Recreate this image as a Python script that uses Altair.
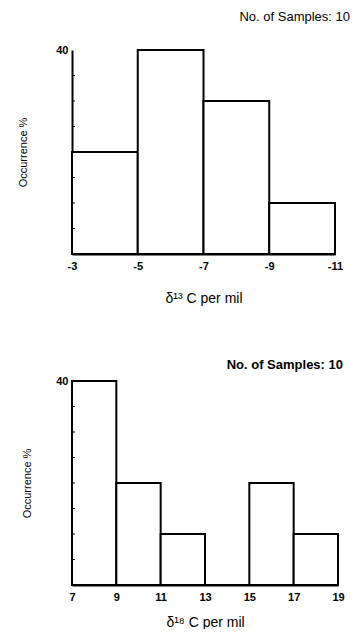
import altair as alt
import pandas as pd

# delta 13C histogram
c13_start = [-3, -5, -7, -9]
c13_end = [-5, -7, -9, -11]
c13_pct = [20, 40, 30, 10]
c13_ticks = [-3, -5, -7, -9, -11]

# delta 18 histogram
o18_start = [7, 9, 11, 13, 15, 17]
o18_end = [9, 11, 13, 15, 17, 19]
o18_pct = [40, 20, 10, 0, 20, 10]
o18_ticks = [7, 9, 11, 13, 15, 17, 19]

minor_ticks = [5, 10, 15, 20, 25, 30, 35]
sample_label = "No. of Samples: 10"
FONT = "Liberation Sans"


def panel(start, end, pct, ticks, xdom, reverse, xtitle, width, title_offset,
          xtitle_pad, label_x, label_y, label_bold):
    df = pd.DataFrame({"start": start, "end": end, "pct": pct, "zero": [0] * len(pct)})
    xs = alt.Scale(domain=xdom, reverse=reverse, nice=False, zero=False)
    ys = alt.Scale(domain=[0, 40], nice=False)
    bars = alt.Chart(df).mark_rect(fill="white", stroke="black", strokeWidth=2).encode(
        x=alt.X("start:Q", scale=xs,
                axis=alt.Axis(values=ticks, title=xtitle, ticks=False, grid=False,
                              labelPadding=6, titlePadding=xtitle_pad, domainColor="black",
                              domainWidth=2, labelFont=FONT, labelFontWeight="bold",
                              labelFontSize=11, labelColor="black", titleFont=FONT,
                              titleFontSize=14, titleFontWeight="normal",
                              titleColor="black", labelFlush=False,
                              labelExpr="'' + datum.value")),
        x2="end:Q",
        y=alt.Y("pct:Q", scale=ys,
                axis=alt.Axis(values=[40], title="Occurrence %", ticks=False, grid=False,
                              labelPadding=4, minExtent=15, maxExtent=15,
                              titlePadding=title_offset - 15, domainColor="black",
                              domainWidth=2, labelFont=FONT, labelFontWeight="bold",
                              labelFontSize=11, labelColor="black", titleFont=FONT,
                              titleFontSize=11, titleFontWeight="normal",
                              titleColor="black", labelBaseline="middle")),
        y2="zero:Q",
    )
    tdf = pd.DataFrame({"v": minor_ticks})
    tk = alt.Chart(tdf).mark_rule(color="black", strokeWidth=1).encode(
        y=alt.Y("v:Q", scale=ys), x=alt.value(0), x2=alt.value(3))
    ldf = pd.DataFrame({"t": [sample_label]})
    lab = alt.Chart(ldf).mark_text(
        align="right", baseline="middle", font=FONT, fontSize=13,
        fontWeight="bold" if label_bold else "normal", color="black"
    ).encode(text="t:N", x=alt.value(label_x), y=alt.value(label_y))
    return alt.layer(bars, tk, lab).properties(width=width, height=204)


top = panel(c13_start, c13_end, c13_pct, c13_ticks, [-11, -3], True,
            "δ¹³ C per mil", 263, 44, 20, 278, -33, False)
bottom = panel(o18_start, o18_end, o18_pct, o18_ticks, [7, 19], False,
               "δ¹⁸ C per mil", 266, 40, 13, 271, -16, True)

chart = alt.vconcat(top, bottom, spacing=54).properties(
    padding={"left": 9, "top": 3, "right": 0, "bottom": 0}
).configure_view(stroke=None)

chart.save("out.html", embed_options={"renderer": "svg", "actions": False})
